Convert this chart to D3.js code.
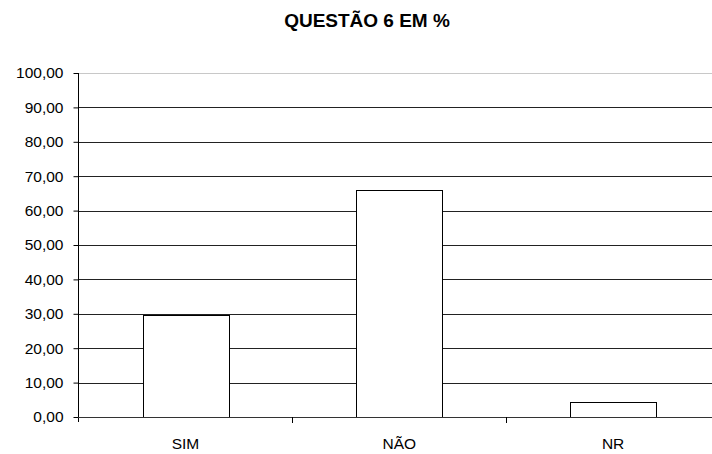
<!DOCTYPE html>
<html>
<head>
<meta charset="utf-8">
<script src="https://cdn.jsdelivr.net/npm/d3@7"></script>
<style>
  html, body { margin: 0; padding: 0; background: #fff; }
  svg { display: block; }
  text { font-family: "Liberation Sans", Arial, sans-serif; fill: #000; }
</style>
</head>
<body>
<svg id="chart" width="712" height="454"></svg>
<script>
// Respostas à questão 6, em percentagem
const categories = ["SIM", "NÃO", "NR"];
const values = [29.66, 66.10, 4.24];
const yTicks = [0, 10, 20, 30, 40, 50, 60, 70, 80, 90, 100];
const title = "QUESTÃO 6 EM %";

const svg = d3.select("#chart");
const plot = { left: 78, right: 720, top: 73, bottom: 417 };

const x = d3.scaleBand().domain(categories).range([plot.left + 0.5, plot.right])
  .paddingInner(0.6).paddingOuter(0.3);
const y = d3.scaleLinear().domain([0, 100]).range([plot.bottom, plot.top]);
const fmt = v => d3.format(".2f")(v).replace(".", ",");
const px = v => Math.round(v) + 0.5;

// horizontal gridlines
svg.append("g").selectAll("line")
  .data(yTicks.filter(t => t > 0))
  .join("line")
  .attr("x1", plot.left).attr("x2", plot.right)
  .attr("y1", d => px(y(d))).attr("y2", d => px(y(d)))
  .attr("stroke", d => d === 100 ? "#c8c8c8" : "#222")
  .attr("stroke-width", 1);

// bars
svg.append("g").selectAll("rect")
  .data(categories.map((c, i) => ({ c, v: values[i] })))
  .join("rect")
  .attr("x", d => px(x(d.c)))
  .attr("y", d => px(y(d.v)))
  .attr("width", Math.round(x.bandwidth()))
  .attr("height", d => Math.round(y(0)) - Math.round(y(d.v)))
  .attr("fill", "#fff")
  .attr("stroke", "#000")
  .attr("stroke-width", 1);

// y axis
const yAxis = d3.axisLeft(y).tickValues(yTicks).tickFormat(fmt)
  .tickSize(5).tickPadding(10);
svg.append("g")
  .attr("transform", `translate(${plot.left + 0.5},0)`)
  .call(yAxis)
  .call(g => g.select(".domain").attr("d", `M0,${plot.top}V${plot.bottom + 5}`).attr("stroke", "#000"))
  .call(g => g.selectAll(".tick line").attr("stroke", "#000"))
  .call(g => g.selectAll(".tick text")
    .attr("font-size", 15.5).attr("font-family", "Liberation Sans, Arial, sans-serif")
    .attr("fill", "#000"));

// x axis baseline and category separators
const bounds = categories.slice(1).map(c => x(c) - x.step() * x.paddingInner() / 2);
svg.append("line")
  .attr("x1", plot.left).attr("x2", plot.right)
  .attr("y1", px(plot.bottom)).attr("y2", px(plot.bottom))
  .attr("stroke", "#333");
svg.append("g").selectAll("line")
  .data(bounds)
  .join("line")
  .attr("x1", d => px(d)).attr("x2", d => px(d))
  .attr("y1", plot.bottom).attr("y2", plot.bottom + 6)
  .attr("stroke", "#000");

// category labels
svg.append("g").selectAll("text")
  .data(categories)
  .join("text")
  .attr("x", d => x(d) + x.bandwidth() / 2)
  .attr("y", 448.5)
  .attr("text-anchor", "middle")
  .attr("font-size", 15.5)
  .text(d => d);

// title
svg.append("text")
  .attr("x", 367).attr("y", 26.5)
  .attr("text-anchor", "middle")
  .attr("font-size", 19)
  .attr("font-weight", "bold")
  .text(title);
</script>
</body>
</html>
